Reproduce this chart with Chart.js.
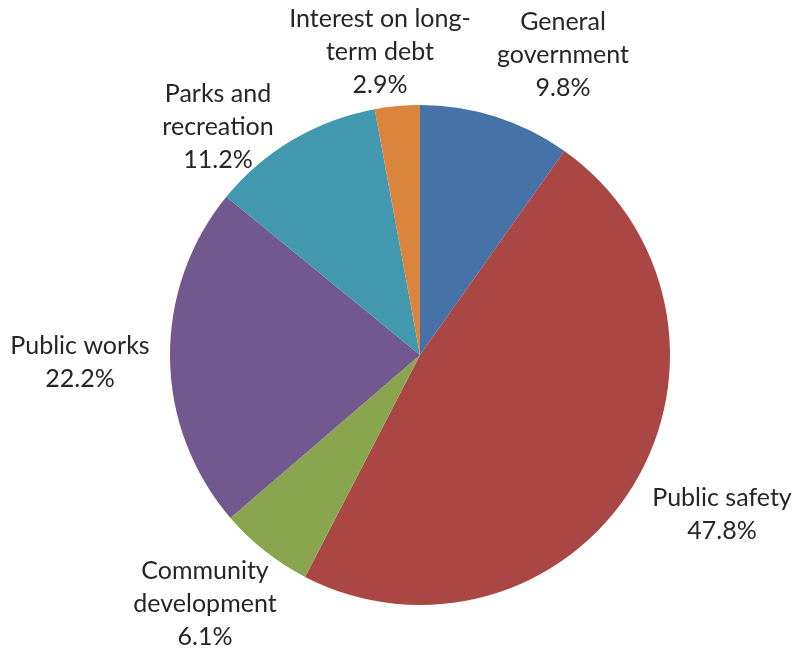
<!DOCTYPE html>
<html>
<head>
<meta charset="utf-8">
<script src="https://cdn.jsdelivr.net/npm/chart.js@4/dist/chart.umd.min.js"></script>
<style>
html,body{margin:0;padding:0;background:#fff;}
#wrap{width:795px;height:650px;}
</style>
</head>
<body>
<div id="wrap"><canvas id="c" width="795" height="650"></canvas></div>
<script>
const categories = ["General government", "Public safety", "Community development", "Public works", "Parks and recreation", "Interest on long-term debt"];
const values = [9.8, 47.8, 6.1, 22.2, 11.2, 2.9];
const labelLines = [["General", "government"], ["Public safety"], ["Community", "development"], ["Public works"], ["Parks and", "recreation"], ["Interest on long-", "term debt"]];
const colors = ["#4672A8", "#AA4643", "#89A54E", "#71588F", "#4198AF", "#DB843D"];
// label block centres (layout only)
const labelAnchors = [[563, 55], [722, 514], [205, 604], [80, 362], [218, 127], [380, 52]];

const FONT = "Lato, sans-serif";
const labelPlugin = {
  id: 'outLabels',
  afterDraw(chart) {
    const ctx = chart.ctx;
    ctx.save();
    ctx.font = "25px " + FONT;
    ctx.fillStyle = "#262626";
    ctx.textAlign = "center";
    ctx.textBaseline = "middle";
    const lh = 33;
    values.forEach((v, i) => {
      const lines = labelLines[i].concat([v.toFixed(1) + "%"]);
      const [cx, cy] = labelAnchors[i];
      const top = cy - (lines.length - 1) * lh / 2;
      lines.forEach((t, k) => ctx.fillText(t, cx, top + k * lh));
    });
    ctx.restore();
  }
};

new Chart(document.getElementById('c'), {
  type: 'pie',
  data: {
    labels: categories,
    datasets: [{ data: values, backgroundColor: colors, borderWidth: 0 }]
  },
  options: {
    responsive: false,
    animation: false,
    layout: { padding: { left: 170, right: 125, top: 105, bottom: 45 } },
    plugins: { legend: { display: false }, tooltip: { enabled: false } }
  },
  plugins: [labelPlugin]
});
</script>
</body>
</html>
